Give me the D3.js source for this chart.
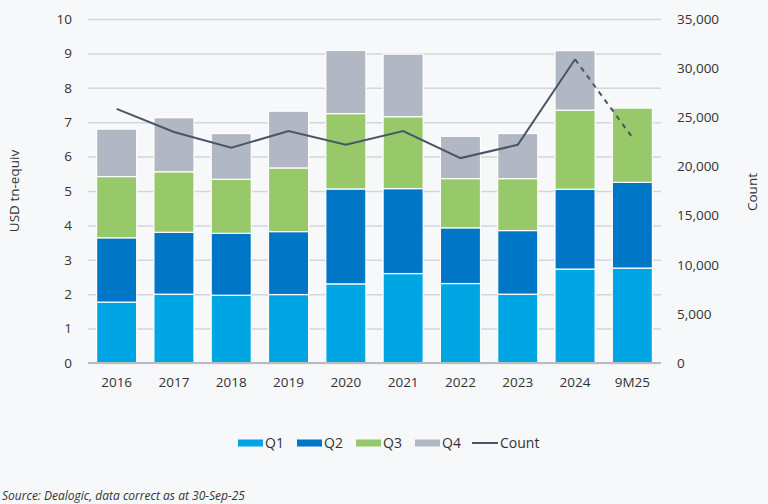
<!DOCTYPE html>
<html><head><meta charset="utf-8">
<script src="https://cdn.jsdelivr.net/npm/d3@7/dist/d3.min.js"></script>
<style>
html,body{margin:0;padding:0;background:#f7f8fa;}
svg{display:block;font-family:"Open Sans","Noto Sans",sans-serif;}
</style></head><body>
<svg id="c" width="768" height="504"></svg>
<script>
const categories = ["2016","2017","2018","2019","2020","2021","2022","2023","2024","9M25"];
const seriesNames = ["Q1","Q2","Q3","Q4"];
const q1 = [1.77,2.00,1.97,1.99,2.30,2.60,2.31,2.00,2.73,2.76];
const q2 = [1.87,1.80,1.80,1.83,2.76,2.47,1.62,1.85,2.32,2.49];
const q3 = [1.78,1.76,1.57,1.85,2.19,2.09,1.43,1.51,2.30,2.16];
const q4 = [1.38,1.57,1.33,1.65,1.84,1.82,1.23,1.31,1.73,0];
const count = [25850,23500,21900,23600,22200,23600,20850,22200,30900,22950];
const leftTicks = [0,1,2,3,4,5,6,7,8,9,10];
const rightTicks = [0,5000,10000,15000,20000,25000,30000,35000];
const colors = ["#00a5e3","#0077c6","#97c86a","#b1b7c3"];
const lineColor = "#4b5568";

const svg = d3.select("#c");
const m = {l:88, r:661, t:19, b:363};
const x = d3.scaleBand().domain(categories).range([m.l, m.r]).paddingInner(0.3).paddingOuter(0.15);
const y = d3.scaleLinear().domain([0,10]).range([m.b, m.t]);
const y2 = d3.scaleLinear().domain([0,35000]).range([m.b, m.t]);
const fs = 13.5;

// gridlines
const gl = d3.axisLeft(y).tickValues(leftTicks).tickSize(-(m.r-m.l)).tickFormat("");
svg.append("g").attr("transform",`translate(${m.l},0)`).call(gl)
  .call(g=>g.select(".domain").remove())
  .call(g=>g.selectAll("line").attr("stroke","#d3d6da").attr("stroke-width",1.5));

// stacked bars
const table = categories.map((c,i)=>({cat:c,Q1:q1[i],Q2:q2[i],Q3:q3[i],Q4:q4[i]}));
const stack = d3.stack().keys(seriesNames)(table);
svg.append("g").selectAll("g").data(stack).join("g").attr("fill",(d,i)=>colors[i])
  .selectAll("rect").data(d=>d.filter(p=>p[1]-p[0]>0)).join("rect")
  .attr("x",d=>x(d.data.cat)).attr("width",x.bandwidth())
  .attr("y",d=>y(d[1])).attr("height",d=>y(d[0])-y(d[1]))
  .attr("stroke","#ffffff").attr("stroke-width",1.2);

// baseline
svg.append("line").attr("x1",m.l).attr("x2",m.r).attr("y1",m.b).attr("y2",m.b)
  .attr("stroke","#b8bcc2").attr("stroke-width",2);

// left axis labels
const ya = d3.axisLeft(y).tickValues(leftTicks).tickSize(0).tickPadding(16);
svg.append("g").attr("transform",`translate(${m.l},0)`).call(ya)
  .call(g=>g.select(".domain").remove())
  .call(g=>g.selectAll("text").attr("font-size",fs).attr("fill","#333").attr("font-family","Open Sans"));

// right axis labels
const ya2 = d3.axisRight(y2).tickValues(rightTicks).tickSize(0).tickPadding(16).tickFormat(d3.format(","));
svg.append("g").attr("transform",`translate(${m.r},0)`).call(ya2)
  .call(g=>g.select(".domain").remove())
  .call(g=>g.selectAll("text").attr("font-size",fs).attr("fill","#333").attr("font-family","Open Sans"));

// x axis labels
const xa = d3.axisBottom(x).tickSize(0).tickPadding(14);
svg.append("g").attr("transform",`translate(0,${m.b})`).call(xa)
  .call(g=>g.select(".domain").remove())
  .call(g=>g.selectAll("text").attr("font-size",fs).attr("fill","#333").attr("font-family","Open Sans"));

// count line
const cx = i=>x(categories[i])+x.bandwidth()/2;
const solid = d3.line().x((d,i)=>cx(i)).y(d=>y2(d));
svg.append("path").attr("d",solid(count.slice(0,9))).attr("fill","none")
  .attr("stroke",lineColor).attr("stroke-width",2);
const dash = d3.line().x(d=>cx(d)).y(d=>y2(count[d]));
svg.append("path").attr("d",dash([8,9])).attr("fill","none")
  .attr("stroke",lineColor).attr("stroke-width",2).attr("stroke-dasharray","5,5");

// axis titles
svg.append("text").attr("transform","translate(19,191) rotate(-90)").attr("text-anchor","middle")
  .attr("font-size",fs).attr("fill","#333").text("USD tn-equiv");
svg.append("text").attr("transform","translate(757,192) rotate(-90)").attr("text-anchor","middle")
  .attr("font-size",fs).attr("fill","#333").text("Count");

// legend
const legItems = [{n:"Q1",x:238},{n:"Q2",x:297},{n:"Q3",x:356},{n:"Q4",x:415}];
const lg = svg.append("g");
legItems.forEach((d,i)=>{
  lg.append("rect").attr("x",d.x).attr("y",439.5).attr("width",25).attr("height",7).attr("fill",colors[i]);
  lg.append("text").attr("x",d.x+27).attr("y",448).attr("font-size",14).attr("fill","#333").text(d.n);
});
lg.append("line").attr("x1",472).attr("x2",498).attr("y1",443).attr("y2",443).attr("stroke",lineColor).attr("stroke-width",2);
lg.append("text").attr("x",500).attr("y",448).attr("font-size",14).attr("fill","#333").text("Count");

// source
svg.append("text").attr("x",2).attr("y",500).attr("font-size",12).attr("font-style","italic")
  .attr("fill","#333").text("Source: Dealogic, data correct as at 30-Sep-25");
</script>
</body></html>
